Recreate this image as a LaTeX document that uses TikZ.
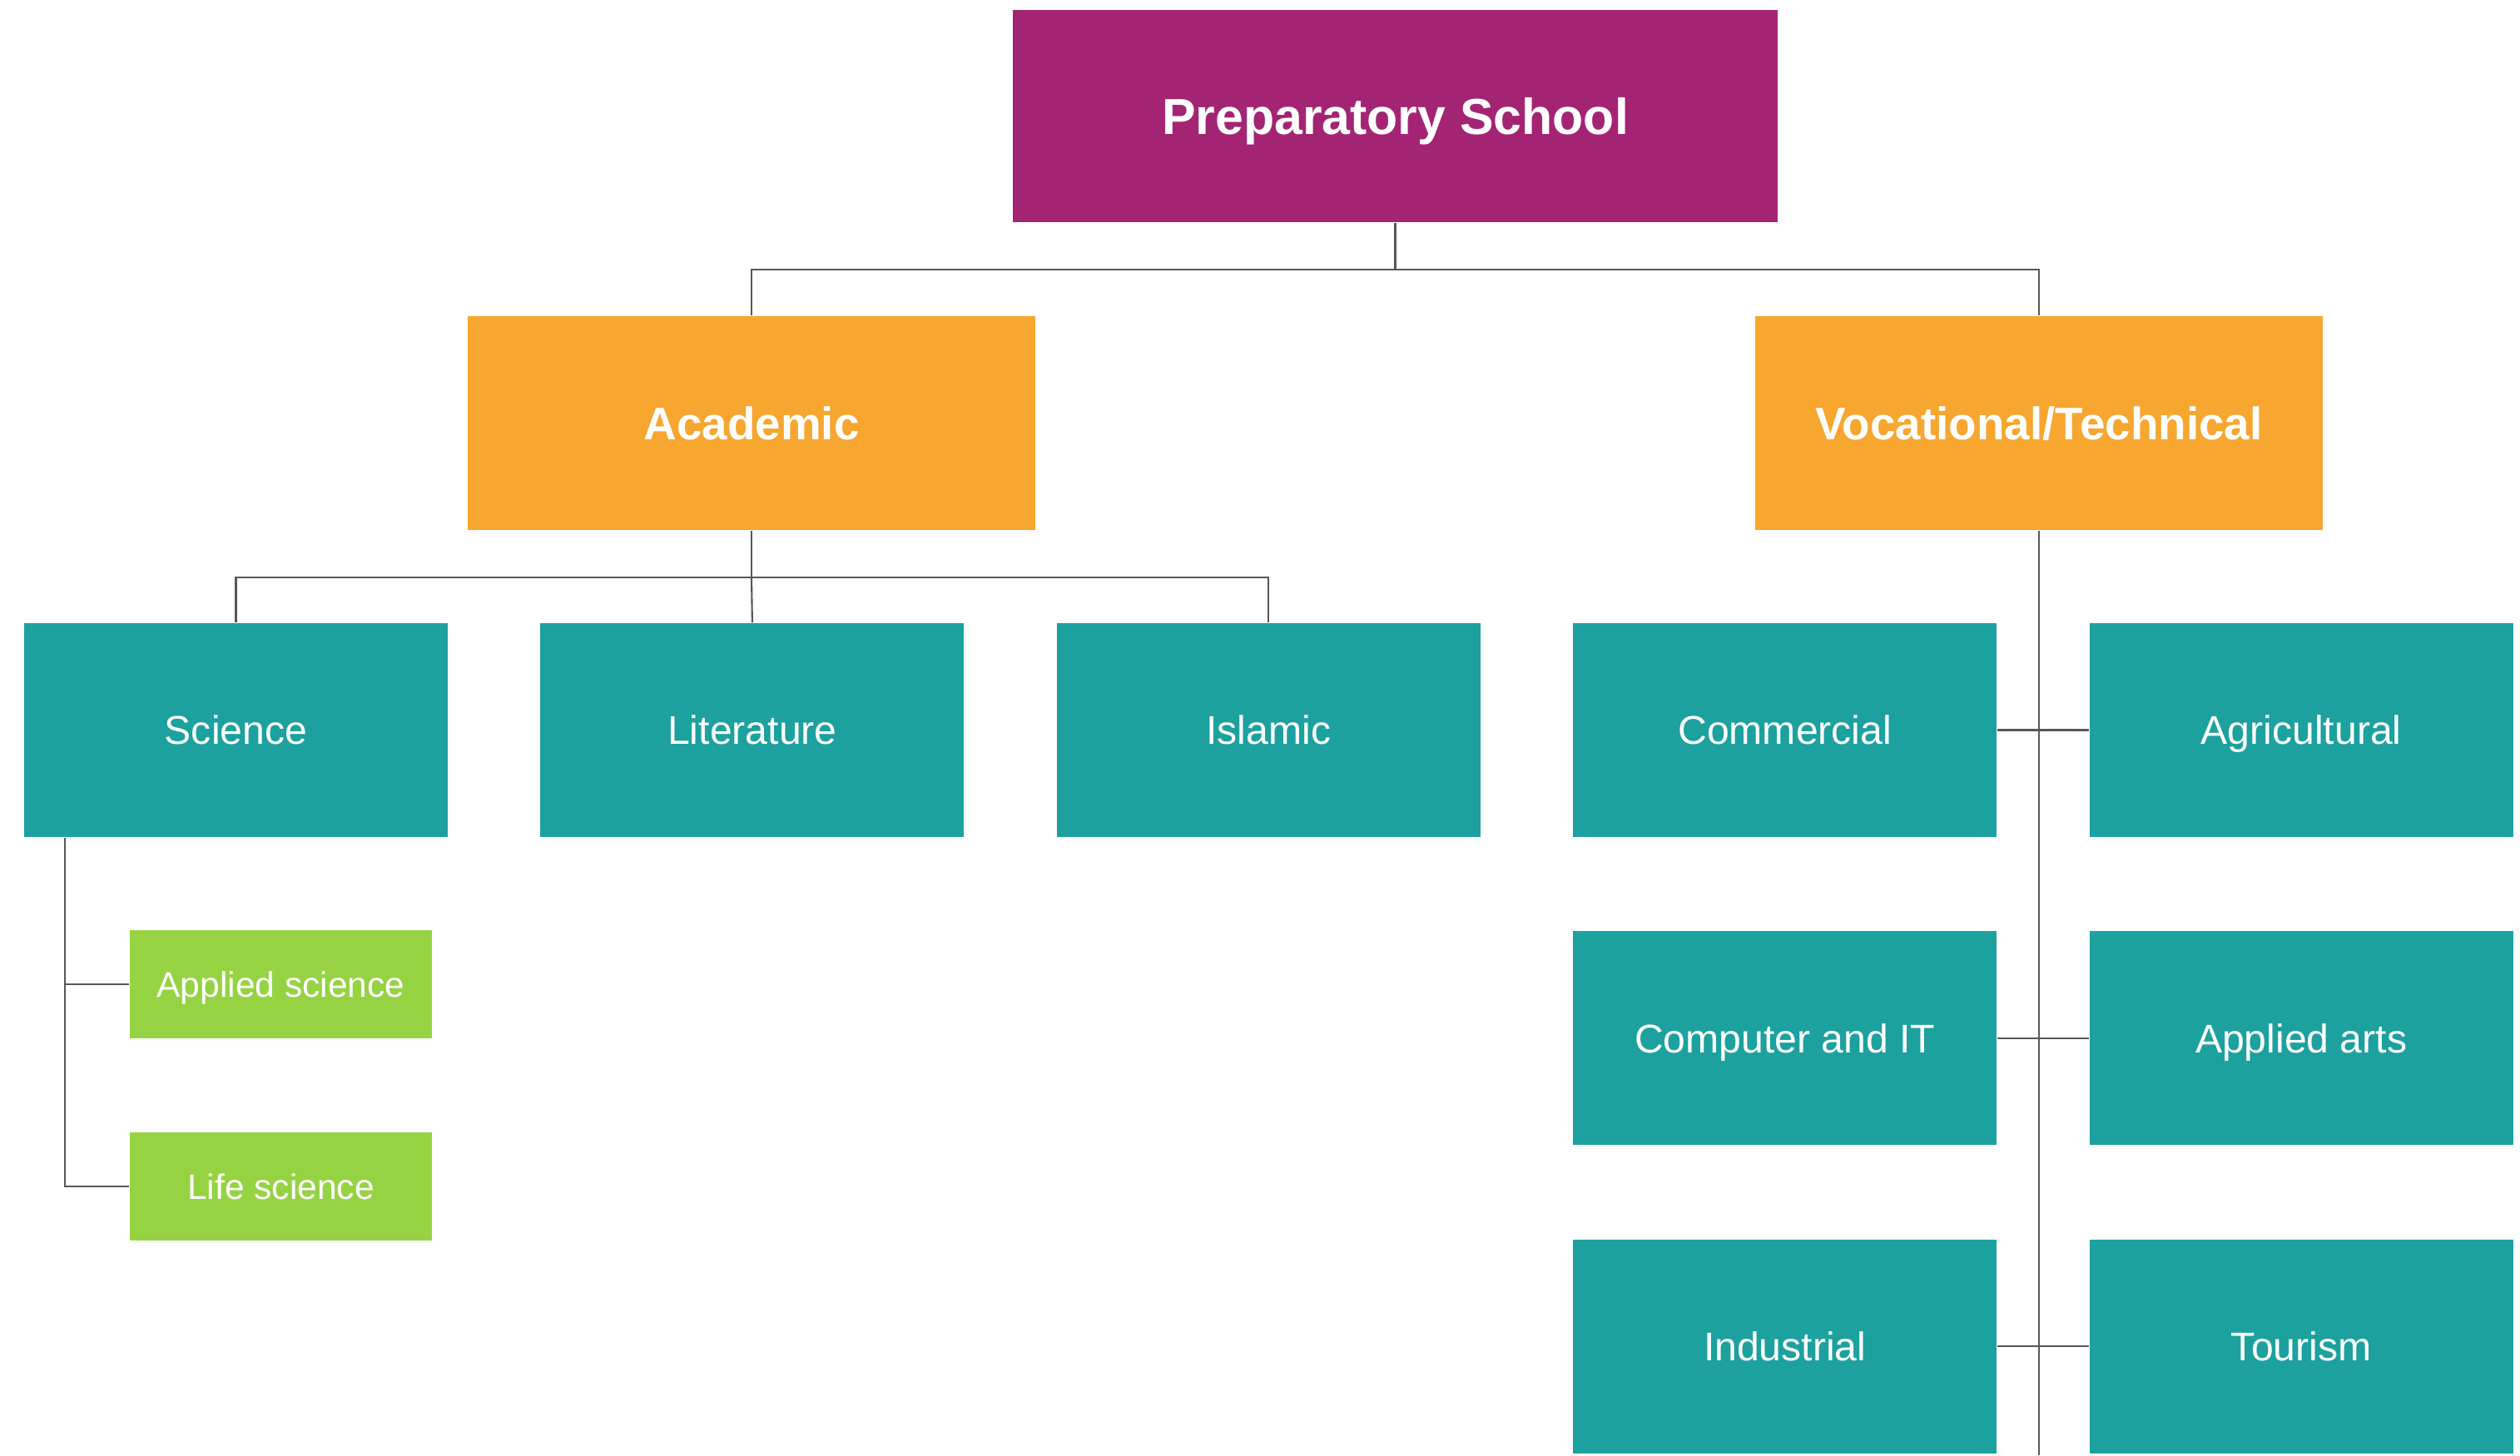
\documentclass[tikz,border=0pt]{standalone}
\usepackage{fontspec}
\setmainfont{Liberation Sans}
\usepackage{tikz}
\usetikzlibrary{positioning}
\definecolor{prepcol}{HTML}{A42474}
\definecolor{trackcol}{HTML}{F7A62F}
\definecolor{streamcol}{HTML}{1CA19F}
\definecolor{subcol}{HTML}{96D343}
\definecolor{linkcol}{HTML}{575757}
\tikzstyle{box} = [rectangle, inner sep=0pt, text=white, align=center, text depth=0pt]
\tikzstyle{school} = [box, fill=prepcol, minimum width=9.19cm, minimum height=2.55cm, font=\fontsize{17.3}{20}\selectfont\bfseries]
\tikzstyle{track} = [box, fill=trackcol, minimum width=6.82cm, minimum height=2.57cm, font=\fontsize{15.6}{18}\selectfont\bfseries]
\tikzstyle{stream} = [box, fill=streamcol, minimum width=5.09cm, minimum height=2.57cm, font=\fontsize{13.7}{16}\selectfont]
\tikzstyle{branch} = [box, fill=subcol, minimum width=3.63cm, minimum height=1.30cm, font=\fontsize{12.1}{14}\selectfont]
\tikzstyle{link} = [draw=linkcol, line width=0.6pt]

\begin{document}
\begin{tikzpicture}
    \useasboundingbox (0,0) rectangle (30.28,-17.49);
    \node[school] (prep) at (16.765,-1.395) {Preparatory School};
    \node[track] (acad) at (9.03,-5.085) {Academic};
    \node[track] (voc) at (24.5,-5.085) {Vocational/Technical};
    \node[stream] (sci) at (2.835,-8.775) {Science};
    \node[stream, right=1.10cm of sci] (lit) {Literature};
    \node[stream, right=1.10cm of lit] (isl) {Islamic};
    \node[stream, right=1.10cm of isl] (com) {Commercial};
    \node[stream, right=1.10cm of com] (agr) {Agricultural};
    \node[stream, below=1.12cm of com] (cit) {Computer and IT};
    \node[stream, below=1.12cm of agr] (art) {Applied arts};
    \node[stream, below=1.12cm of cit] (ind) {Industrial};
    \node[stream, below=1.12cm of art] (tour) {Tourism};
    \node[branch] (app) at (3.375,-11.83) {Applied science};
    \node[branch] (life) at (3.375,-14.26) {Life science};
    \coordinate (vocend) at (24.5,-17.49);

    \draw[link] (prep.south) -- ++(0,-0.56) coordinate (topbus) -| (acad.north);
    \draw[link] (topbus) -| (voc.north);
    \draw[link] (acad.south) -- ++(0,-0.56) coordinate (acadbus) -| (sci.north);
    \draw[link] (acadbus) -| (isl.north);
    \draw[link] (acadbus) -- (lit.north);
    \draw[link] ([xshift=0.5cm]sci.south west) coordinate (scitrunk) |- (life.west);
    \draw[link] (app.west) -- (app.west -| scitrunk);
    \draw[link] (voc.south) -- (vocend);
    \draw[link] (com.east) -- (agr.west);
    \draw[link] (cit.east) -- (art.west);
    \draw[link] (ind.east) -- (tour.west);
\end{tikzpicture}
\end{document}
